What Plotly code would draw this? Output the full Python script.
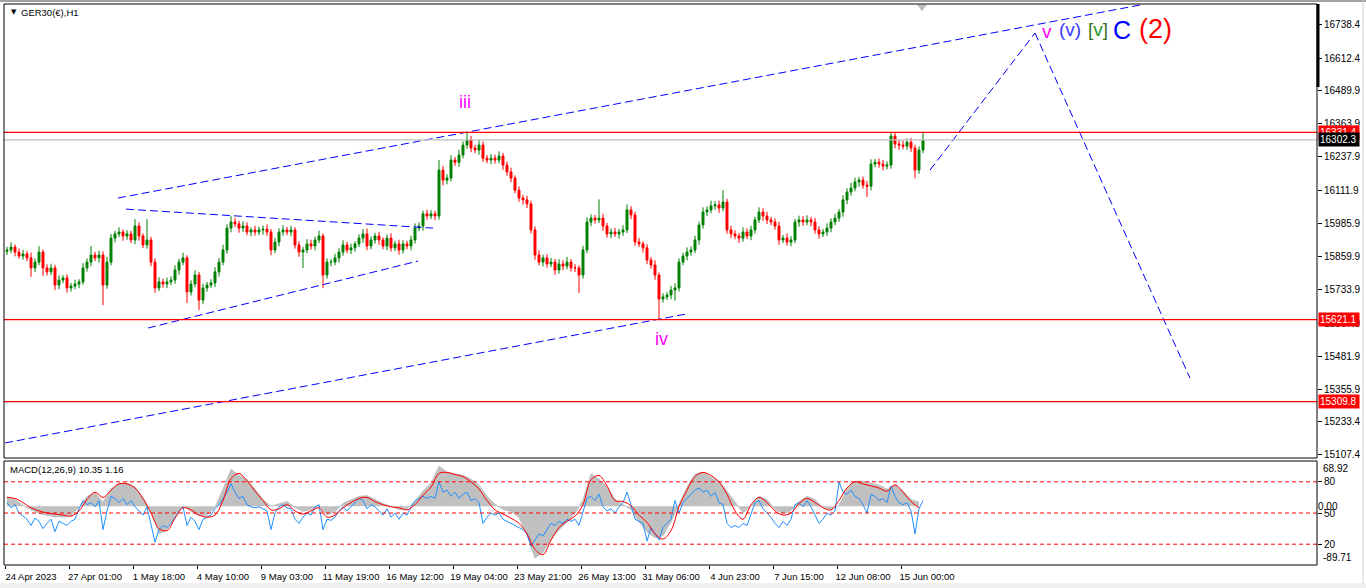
import plotly.graph_objects as go

# ---------------- data ----------------
first_open = 15880
closes = [
    15885, 15896, 15877, 15862, 15870, 15855, 15817, 15839, 15877, 15817,
    15802, 15817, 15752, 15771, 15779, 15741, 15748, 15756, 15764, 15817,
    15839, 15866, 15855, 15866, 15752, 15839, 15930, 15946, 15953, 15938,
    15946, 15923, 15976, 15938, 15904, 15923, 15839, 15741, 15764, 15756,
    15764, 15771, 15809, 15839, 15855, 15726, 15756, 15790, 15695, 15741,
    15752, 15760, 15802, 15839, 15885, 15968, 15991, 15984, 15968, 15976,
    15953, 15961, 15953, 15961, 15964, 15953, 15885, 15915, 15953, 15961,
    15953, 15961, 15904, 15877, 15885, 15908, 15900, 15923, 15938, 15790,
    15839, 15839, 15855, 15877, 15904, 15885, 15893, 15908, 15930, 15946,
    15900, 15923, 15938, 15923, 15900, 15930, 15893, 15908, 15885, 15908,
    15900, 15923, 15968, 15976, 16022, 16014, 16022, 16014, 16188, 16150,
    16158, 16226, 16218, 16245, 16283, 16302, 16272, 16264, 16283, 16233,
    16226, 16233, 16226, 16241, 16207, 16181, 16158, 16112, 16082, 16075,
    16060, 15961, 15866, 15839, 15855, 15832, 15839, 15809, 15832, 15824,
    15839, 15817, 15817, 15790, 15885, 15991, 16006, 15999, 16006, 15976,
    15946, 15953, 15946, 15953, 15961, 16037, 16018, 15915, 15908, 15893,
    15847, 15828, 15790, 15699, 15707, 15714, 15733, 15741, 15839, 15862,
    15877, 15885, 15923, 15980, 16029, 16037, 16052, 16056, 16044, 16067,
    15961, 15946, 15938, 15930, 15953, 15938, 15961, 15999, 16029, 16014,
    15999, 15991, 15976, 15923, 15930, 15915, 15923, 15991, 15999, 15991,
    15999, 15991, 15961, 15946, 15953, 15968, 15991, 16006, 16029, 16075,
    16105, 16120, 16143, 16150, 16131, 16127, 16211, 16218, 16211, 16203,
    16207, 16317, 16287, 16283, 16279, 16294, 16272, 16188, 16264, 16302,
]
wick_up = [
    12, 18, 10, 14, 16, 12, 20, 14, 22, 10,
    14, 16, 12, 18, 10, 14, 12, 16, 10, 18,
    14, 34, 12, 16, 14, 20, 16, 12, 18, 10,
    14, 12, 26, 14, 10, 79, 12, 14, 18, 12,
    16, 14, 18, 12, 20, 10, 14, 18, 12, 16,
    12, 14, 18, 16, 20, 14, 22, 16, 12, 18,
    14, 10, 16, 12, 14, 18, 12, 16, 14, 18,
    12, 16, 10, 14, 12, 18, 16, 12, 20, 10,
    14, 12, 16, 14, 18, 12, 16, 10, 14, 18,
    20, 14, 12, 16, 10, 14, 18, 12, 16, 14,
    12, 16, 18, 14, 12, 16, 14, 12, 38, 16,
    14, 18, 12, 20, 14, 27, 16, 12, 18, 14,
    12, 16, 14, 18, 12, 14, 16, 10, 14, 12,
    16, 12, 14, 18, 12, 14, 16, 12, 18, 14,
    20, 12, 14, 10, 16, 18, 14, 12, 71, 16,
    12, 14, 16, 12, 18, 21, 14, 12, 16, 10,
    14, 12, 18, 10, 14, 12, 16, 18, 14, 12,
    18, 14, 16, 12, 18, 14, 20, 14, 16, 45,
    12, 16, 14, 12, 18, 14, 16, 12, 18, 14,
    16, 12, 14, 16, 12, 18, 14, 12, 16, 14,
    18, 12, 16, 14, 12, 18, 14, 16, 12, 18,
    14, 20, 16, 12, 14, 16, 18, 12, 14, 16,
    14, 12, 14, 16, 18, 14, 16, 12, 14, 27,
]
wick_dn = [
    14, 12, 16, 10, 14, 12, 34, 16, 12, 30,
    14, 12, 19, 16, 12, 18, 14, 12, 16, 10,
    14, 16, 12, 18, 76, 14, 12, 16, 12, 18,
    14, 12, 16, 18, 12, 14, 16, 18, 12, 14,
    16, 12, 14, 18, 12, 42, 14, 12, 38, 16,
    14, 12, 16, 18, 12, 14, 16, 12, 18, 14,
    12, 16, 14, 12, 18, 14, 20, 12, 16, 14,
    12, 16, 14, 18, 60, 12, 14, 16, 12, 50,
    14, 16, 12, 18, 14, 12, 16, 14, 12, 18,
    16, 12, 14, 18, 12, 16, 14, 12, 18, 14,
    12, 16, 14, 12, 18, 14, 12, 16, 14, 20,
    16, 12, 14, 18, 12, 14, 16, 12, 18, 14,
    12, 16, 14, 12, 18, 14, 16, 12, 14, 18,
    16, 14, 18, 12, 16, 14, 12, 18, 14, 16,
    12, 14, 16, 68, 14, 12, 16, 14, 12, 18,
    14, 16, 12, 18, 14, 12, 16, 14, 12, 18,
    16, 14, 18, 80, 14, 12, 16, 40, 14, 12,
    16, 14, 12, 18, 14, 16, 12, 14, 18, 12,
    14, 16, 12, 18, 14, 12, 16, 14, 12, 18,
    16, 12, 14, 18, 12, 14, 16, 12, 18, 14,
    12, 16, 14, 18, 12, 14, 16, 12, 14, 18,
    16, 14, 12, 18, 14, 41, 16, 12, 14, 16,
    12, 14, 16, 18, 12, 14, 16, 31, 14, 12,
]
# MACD histogram (every second bar) and its smooth line (0-100 scale)
macd_hist = [
    15, 10, 1, -5, -11, -14, -16, -16, -14, -2,
    15, 21, 6, 26, 35, 35, 29, 13, -8, -42,
    -36, -13, 1, -8, -14, -14, -2, 26, 56, 47,
    41, 26, 10, 0, 4, 7, -2, -8, -5, 0,
    -13, -8, 4, 10, 15, 16, 10, 4, 0, -5,
    -4, 7, 23, 35, 61, 52, 49, 47, 41, 32,
    15, 3, -5, -8, -17, -44, -79, -70, -51, -36,
    -24, -11, 10, 49, 41, 29, 10, 3, -5, -24,
    -39, -48, -45, -24, 3, 29, 49, 52, 44, 38,
    23, 6, -10, 1, 15, 10, -5, -11, -7, 7,
    15, 10, -2, -5, 1, 26, 38, 38, 35, 32,
    26, 33, 23, 10, 6,
]
signal_line = [
    65, 64, 60, 55, 52, 50, 49, 48, 47, 52,
    63, 70, 65, 72, 78, 78, 74, 64, 50, 35,
    33, 45, 55, 53, 48, 46, 48, 62, 83, 88,
    81, 71, 62, 53, 54, 58, 52, 49, 52, 55,
    46, 48, 55, 60, 64, 65, 61, 58, 56, 55,
    53, 58, 67, 75, 88, 89, 87, 85, 80, 73,
    62, 53, 49, 45, 40, 30, 15, 10, 24, 36,
    42, 47, 58, 82, 86, 76, 62, 61, 57, 48,
    41, 30, 25, 33, 56, 72, 85, 89, 86, 80,
    68, 52, 44, 58, 65, 60, 52, 48, 50, 59,
    64, 60, 55, 53, 62, 74, 80, 78, 76, 74,
    71, 77, 70, 61, 55,
]
fast_line = [
    60, 55, 58, 50, 47, 44, 38, 45, 42, 35,
    40, 44, 32, 42, 40, 38, 42, 44, 54, 62,
    58, 60, 56, 62, 34, 52, 66, 64, 60, 64,
    58, 62, 56, 52, 48, 56, 40, 22, 34, 38,
    36, 40, 46, 52, 56, 38, 46, 42, 34, 44,
    46, 48, 54, 58, 64, 70, 78, 70, 64, 66,
    58, 56, 55, 56, 54, 52, 34, 50, 56, 58,
    55, 54, 44, 40, 46, 50, 48, 56, 58, 34,
    44, 43, 46, 52, 56, 52, 56, 60, 64, 62,
    54, 58, 56, 52, 48, 54, 46, 50, 44, 50,
    48, 56, 62, 64, 66, 64, 66, 64, 80, 70,
    72, 66, 70, 64, 68, 70, 62, 64, 60, 40,
    46, 50, 48, 50, 44, 42, 40, 38, 36, 34,
    30, 18, 24, 30, 28, 34, 40, 38, 42, 40,
    44, 42, 44, 38, 52, 64, 66, 62, 68, 56,
    52, 54, 50, 56, 60, 70, 58, 44, 42, 40,
    23, 36, 30, 24, 36, 40, 44, 62, 50, 60,
    64, 68, 72, 74, 70, 72, 66, 70, 60, 58,
    40, 36, 38, 36, 40, 38, 50, 60, 62, 54,
    50, 46, 40, 36, 42, 38, 44, 58, 60, 56,
    62, 56, 48, 40, 44, 50, 48, 52, 80, 70,
    68, 72, 66, 64, 58, 50, 68, 66, 62, 64,
    60, 76, 66, 60, 58, 60, 52, 30, 54, 62,
]
x_tick_labels = ["24 Apr 2023", "27 Apr 01:00", "1 May 18:00", "4 May 10:00",
                 "9 May 03:00", "11 May 19:00", "16 May 12:00", "19 May 04:00",
                 "23 May 21:00", "26 May 13:00", "31 May 06:00", "4 Jun 23:00",
                 "7 Jun 15:00", "12 Jun 08:00", "15 Jun 00:00"]
price_ticks = [16738.4, 16612.4, 16489.9, 16363.9, 16237.9, 16111.9, 15985.9,
               15859.9, 15733.9, 15607.9, 15481.9, 15355.9, 15233.4, 15107.4]
h_levels = [16331.4, 16302.3, 15621.1, 15309.8]
h_level_colors = ["#ff0000", "#c0c0c0", "#ff0000", "#ff0000"]
h_label_bg = ["#ff0000", "#000000", "#ff0000", "#ff0000"]
osc_levels = [80, 50, 20]
macd_max, macd_min = 68.92, -89.71
price_range = [15096, 16818]
# drawn trend lines: ((bar, price), (bar, price))
trend_lines = [
    ((27.75, 16082), (283.25, 16814)),
    ((-0.5, 15153), (169.75, 15642)),
    ((29.75, 16040), (106.5, 15968)),
    ((35.25, 15589), (102.75, 15843)),
    ((230.75, 16188), (257.0, 16708)),
    ((257.0, 16708), (295.75, 15399)),
]
# wave labels: text, bar, price, colour, size
wave_labels = [
    ("iii", 114.5, 16446, "#ff00ff", 18),
    ("iv", 163.5, 15546, "#ff00ff", 18),
    ("v", 260.0, 16714, "#ff00ff", 19),
    ("(v)", 265.75, 16720, "#3a3aff", 19),
    ("<span style='color:#3c6e1e'>[</span>v<span style='color:#3c6e1e'>]</span>", 272.75, 16720, "#1f9a1f", 19),
    ("C", 278.75, 16720, "#0000ff", 25),
    ("(2)", 287.0, 16724, "#ff0000", 27),
]

# ---------------- derived candle arrays ----------------
n = len(closes)
bars = list(range(n))
opens = [first_open] + closes[:-1]
highs = [max(o, c) + w for o, c, w in zip(opens, closes, wick_up)]
lows = [min(o, c) - w for o, c, w in zip(opens, closes, wick_dn)]
macd_x = bars[::2]
tick_pos = [-0.5 + 16 * k for k in range(len(x_tick_labels))]

FONT = "Liberation Sans, Arial, sans-serif"
L, R, T, B = 4, 49, 4, 23
W, H = 1366, 588
PW, PH = W - L - R, H - T - B
def px(xp):
    return (xp - L) / PW
def py(yp):
    return (H - B - yp) / PH

main_dom = [py(458), 1.0]
sub_dom = [0.0, py(461)]

fig = go.Figure()

fig.add_trace(go.Candlestick(
    x=bars, open=opens, high=highs, low=lows, close=closes,
    increasing=dict(line=dict(color="#008000", width=1), fillcolor="#008000"),
    decreasing=dict(line=dict(color="#ff0000", width=1), fillcolor="#ff0000"),
    whiskerwidth=0, showlegend=False, hoverinfo="skip", xaxis="x", yaxis="y"))

for (a, b) in trend_lines:
    fig.add_trace(go.Scatter(x=[a[0], b[0]], y=[a[1], b[1]], mode="lines",
                             line=dict(color="#0000ff", width=1, dash="8px,4px"),
                             showlegend=False, hoverinfo="skip", xaxis="x", yaxis="y"))

# last-bar marker at top
fig.add_trace(go.Scatter(x=[bars[-1] - 0.25], y=[price_range[1] - 10], mode="markers",
                         marker=dict(symbol="triangle-down", size=9, color="#bdbdbd"),
                         showlegend=False, hoverinfo="skip", cliponaxis=False,
                         xaxis="x", yaxis="y"))

# MACD histogram (silver)
fig.add_trace(go.Scatter(x=macd_x, y=macd_hist, mode="lines", fill="tozeroy",
                         fillcolor="#c0c0c0", line=dict(color="#c0c0c0", width=1),
                         showlegend=False, hoverinfo="skip", xaxis="x", yaxis="y2"))
# fast oscillator (blue) and smooth line (red)
fig.add_trace(go.Scatter(x=bars, y=fast_line, mode="lines",
                         line=dict(color="#1e90ff", width=1),
                         showlegend=False, hoverinfo="skip", xaxis="x", yaxis="y3"))
fig.add_trace(go.Scatter(x=macd_x, y=signal_line, mode="lines",
                         line=dict(color="#ff0000", width=1, shape="spline"),
                         showlegend=False, hoverinfo="skip", xaxis="x", yaxis="y3"))

shapes = []
for lv, col in zip(h_levels, h_level_colors):
    shapes.append(dict(type="line", xref="paper", yref="y", x0=0, x1=1, y0=lv, y1=lv,
                       line=dict(color=col, width=1.2)))
for lv in osc_levels:
    shapes.append(dict(type="line", xref="paper", yref="y3", x0=0, x1=1, y0=lv, y1=lv,
                       line=dict(color="#ff0000", width=1, dash="4px,3px")))
# panel frames
shapes.append(dict(type="rect", xref="paper", yref="paper", x0=0, x1=1,
                   y0=main_dom[0], y1=main_dom[1], line=dict(color="#000000", width=1)))
shapes.append(dict(type="rect", xref="paper", yref="paper", x0=0, x1=1,
                   y0=sub_dom[0], y1=sub_dom[1], line=dict(color="#000000", width=1)))
# thick scale marker on right
shapes.append(dict(type="line", xref="paper", yref="paper", x0=px(1318), x1=px(1318),
                   y0=py(87), y1=1.0, line=dict(color="#000000", width=3)))
# window chrome
shapes.append(dict(type="rect", xref="paper", yref="paper", x0=px(0), x1=px(W),
                   y0=py(H), y1=py(583), fillcolor="#f0f0f0", line=dict(width=0), layer="below"))
shapes.append(dict(type="rect", xref="paper", yref="paper", x0=px(0), x1=px(W),
                   y0=py(2), y1=py(0), fillcolor="#a0a0a0", line=dict(width=0)))
shapes.append(dict(type="line", xref="paper", yref="paper", x0=px(1363), x1=px(1363),
                   y0=py(583), y1=py(0), line=dict(color="#d0d0d0", width=1)))

annotations = []
for lv, bg in zip(h_levels, h_label_bg):
    annotations.append(dict(xref="paper", yref="y", x=px(1318), y=lv, xanchor="left",
                            yanchor="middle", text=f"{lv:.1f}", showarrow=False,
                            bgcolor=bg, font=dict(family=FONT, size=10, color="#ffffff"),
                            borderpad=1, width=38, align="left"))
for txt, bx, pr, col, sz in wave_labels:
    annotations.append(dict(xref="x", yref="y", x=bx, y=pr, text=txt, showarrow=False,
                            xanchor="center", yanchor="middle",
                            font=dict(family=FONT, size=sz, color=col)))
axis_font = dict(family=FONT, size=10, color="#000000")
# MACD window max / min scale labels (drawn just inside the window edges)
annotations.append(dict(xref="paper", yref="paper", x=px(1321), y=sub_dom[1],
                        text=f"{macd_max:.2f}", showarrow=False, xanchor="left",
                        yanchor="top", font=axis_font))
annotations.append(dict(xref="paper", yref="paper", x=px(1321), y=0,
                        text=f"{macd_min:.2f}", showarrow=False, xanchor="left",
                        yanchor="bottom", font=axis_font))
annotations.append(dict(xref="paper", yref="paper", x=px(9), y=py(12), text="▼",
                        showarrow=False, xanchor="left", yanchor="middle",
                        font=dict(family="DejaVu Sans", size=7, color="#000000")))
annotations.append(dict(xref="paper", yref="paper", x=px(19), y=py(12), text="GER30(€),H1",
                        showarrow=False, xanchor="left", yanchor="middle",
                        font=dict(family=FONT, size=9.5, color="#000000")))
annotations.append(dict(xref="paper", yref="paper", x=px(8), y=py(469),
                        text="MACD(12,26,9) 10.35 1.16", showarrow=False,
                        xanchor="left", yanchor="middle",
                        font=dict(family=FONT, size=9.5, color="#000000")))

fig.update_layout(
    width=W, height=H, margin=dict(l=L, r=R, t=T, b=B, pad=0, autoexpand=False),
    paper_bgcolor="#ffffff", plot_bgcolor="#ffffff", hovermode=False,
    showlegend=False, shapes=shapes, annotations=annotations,
    xaxis=dict(domain=[0, 1], anchor="y2", range=[-0.75, 327.5], automargin=False,
               tickvals=tick_pos, ticktext=x_tick_labels, ticks="outside", ticklen=3,
               tickcolor="#000000", showgrid=False, zeroline=False, showline=False,
               tickfont=dict(family=FONT, size=9.5, color="#000000"),
               ticklabelshift=26, rangeslider=dict(visible=False)),
    yaxis=dict(domain=main_dom, anchor="x", side="right", range=price_range,
               automargin=False,
               tickvals=price_ticks, ticktext=[f"{v:.1f}" for v in price_ticks],
               ticks="outside", ticklen=4, tickcolor="#000000", showgrid=False,
               zeroline=False, showline=False, tickfont=axis_font),
    yaxis2=dict(domain=sub_dom, anchor="x", side="right", range=[macd_min, macd_max],
                automargin=False, tickvals=[0.0], ticktext=["0.00"], ticks="",
                showgrid=False, zeroline=False, showline=False, tickfont=axis_font),
    yaxis3=dict(overlaying="y2", anchor="x", side="right", range=[0, 100],
                automargin=False,
                tickvals=osc_levels, ticktext=[str(v) for v in osc_levels],
                ticks="outside", ticklen=4, tickcolor="#000000", showgrid=False,
                zeroline=False, showline=False, tickfont=axis_font),
)

fig.write_html("out.html", config={"displayModeBar": False},
               post_script="document.body.style.margin='0';document.body.style.overflow='hidden';")
